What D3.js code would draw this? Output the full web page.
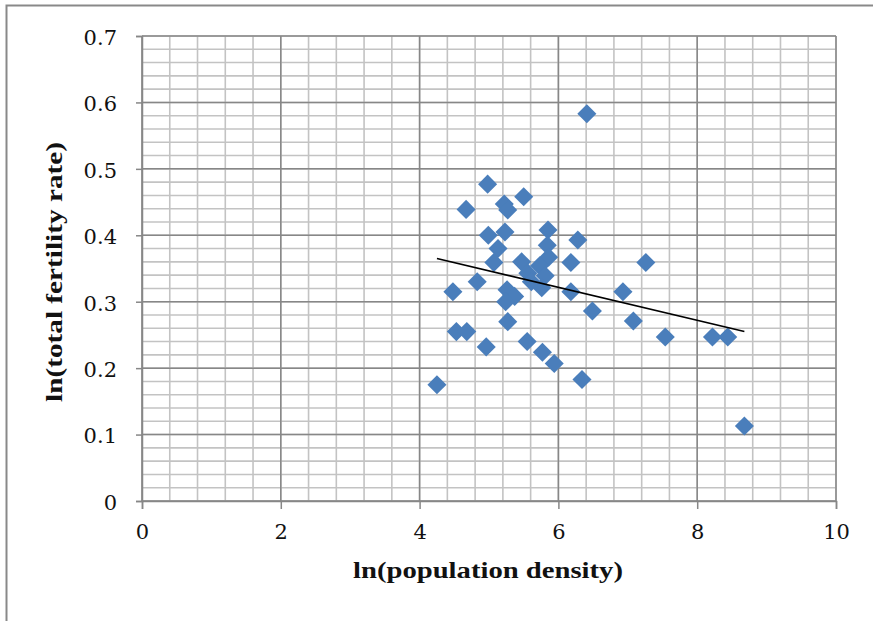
<!DOCTYPE html>
<html>
<head>
<meta charset="utf-8">
<script src="https://cdn.jsdelivr.net/npm/d3@7"></script>
<style>
  body { margin: 0; background: #fff; }
  svg { display: block; }
</style>
</head>
<body>
<script>
// values
var popDensity = [6.41, 4.98, 4.67, 5.22, 5.27, 5.50, 4.99, 5.23, 5.13, 5.07,
    5.85, 5.84, 5.86, 6.28, 6.18, 5.47, 5.73, 5.56, 5.81, 5.61,
    5.76, 4.83, 4.48, 5.26, 5.37, 5.24, 6.18, 6.49, 6.93, 7.08,
    7.26, 5.27, 4.53, 4.68, 4.96, 5.55, 5.77, 5.94, 6.34, 4.25,
    7.54, 8.22, 8.44, 8.68];
var fertility = [0.583, 0.477, 0.439, 0.447, 0.438, 0.458, 0.400, 0.405, 0.380, 0.359,
    0.408, 0.385, 0.367, 0.393, 0.359, 0.360, 0.354, 0.343, 0.339, 0.330,
    0.321, 0.330, 0.315, 0.318, 0.308, 0.300, 0.315, 0.286, 0.315, 0.271,
    0.359, 0.270, 0.255, 0.255, 0.232, 0.240, 0.224, 0.207, 0.183, 0.175,
    0.247, 0.247, 0.247, 0.113];
var xTicks = [0, 2, 4, 6, 8, 10];
var yTicks = [0, 0.1, 0.2, 0.3, 0.4, 0.5, 0.6, 0.7];
var xMinorStep = 0.4;
var yMinorStep = 0.02;
var xTitle = "ln(population density)";
var yTitle = "ln(total fertility rate)";

var W = 873, H = 621;
var plotLeft = 142, plotRight = 836, plotTop = 36, plotBottom = 501;

var points = popDensity.map((d, i) => ({x: d, y: fertility[i]}));

var x = d3.scaleLinear().domain([0, 10]).range([plotLeft, plotRight]);
var y = d3.scaleLinear().domain([0, 0.7]).range([plotBottom, plotTop]);

const svg = d3.select("body").append("svg")
    .attr("width", W)
    .attr("height", H);

// outer chart frame
svg.append("rect")
    .attr("x", 6.5).attr("y", 5.5)
    .attr("width", W + 20).attr("height", H + 20)
    .attr("fill", "none")
    .attr("stroke", "#898989")
    .attr("stroke-width", 2);

// minor grid
const grid = svg.append("g");
grid.append("g").selectAll("line")
    .data(d3.range(0, 10 + 1e-9, xMinorStep))
    .join("line")
    .attr("x1", d => x(d)).attr("x2", d => x(d))
    .attr("y1", plotTop).attr("y2", plotBottom)
    .attr("stroke", "#c3c3c3").attr("stroke-width", 1.6);
grid.append("g").selectAll("line")
    .data(d3.range(0, 0.7 + 1e-9, yMinorStep))
    .join("line")
    .attr("x1", plotLeft).attr("x2", plotRight)
    .attr("y1", d => y(d)).attr("y2", d => y(d))
    .attr("stroke", "#c3c3c3").attr("stroke-width", 1.6);

// major grid
grid.append("g").selectAll("line")
    .data(xTicks)
    .join("line")
    .attr("x1", d => x(d)).attr("x2", d => x(d))
    .attr("y1", plotTop).attr("y2", plotBottom)
    .attr("stroke", "#878787").attr("stroke-width", 1.5);
grid.append("g").selectAll("line")
    .data(yTicks)
    .join("line")
    .attr("x1", plotLeft).attr("x2", plotRight)
    .attr("y1", d => y(d)).attr("y2", d => y(d))
    .attr("stroke", "#878787").attr("stroke-width", 1.5);

// axes
const xAxis = svg.append("g")
    .attr("transform", `translate(0,${plotBottom})`)
    .call(d3.axisBottom(x).tickValues(xTicks).tickSize(8).tickPadding(10).tickFormat(d3.format("d")));
const yAxis = svg.append("g")
    .attr("transform", `translate(${plotLeft},0)`)
    .call(d3.axisLeft(y).tickValues(yTicks).tickSize(6).tickPadding(19).tickFormat(d => d === 0 ? "0" : d3.format(".1f")(d)));

[xAxis, yAxis].forEach(a => {
    a.select(".domain").attr("stroke", "#878787").attr("stroke-width", 1.5);
    a.selectAll(".tick line").attr("stroke", "#878787").attr("stroke-width", 1.5);
    a.selectAll("text")
        .attr("fill", "#111")
        .style("font-family", "'DejaVu Serif', serif")
        .style("font-size", "21px");
});
xAxis.selectAll("text").attr("dy", "0.95em");
yAxis.selectAll("text").attr("dy", "0.4em");

// trend line (least squares)
const mx = d3.mean(points, d => d.x), my = d3.mean(points, d => d.y);
const slope = d3.sum(points, d => (d.x - mx) * (d.y - my)) / d3.sum(points, d => (d.x - mx) ** 2);
const icept = my - slope * mx;
const [xmin, xmax] = d3.extent(points, d => d.x);

// markers
svg.append("g").selectAll("path")
    .data(points)
    .join("path")
    .attr("transform", d => `translate(${x(d.x)},${y(d.y)}) rotate(45)`)
    .attr("d", d3.symbol(d3.symbolSquare, 182))
    .attr("fill", "#4a7ebb");

svg.append("line")
    .attr("x1", x(xmin)).attr("y1", y(icept + slope * xmin))
    .attr("x2", x(xmax)).attr("y2", y(icept + slope * xmax))
    .attr("stroke", "#000").attr("stroke-width", 1.6);

// titles
svg.append("text")
    .attr("x", 488).attr("y", 578)
    .attr("text-anchor", "middle")
    .attr("textLength", 270).attr("lengthAdjust", "spacingAndGlyphs")
    .style("font-family", "'Liberation Serif', serif")
    .style("font-weight", "bold")
    .style("font-size", "24px")
    .attr("fill", "#111")
    .text(xTitle);

svg.append("text")
    .attr("transform", "translate(62,272) rotate(-90)")
    .attr("text-anchor", "middle")
    .attr("textLength", 260).attr("lengthAdjust", "spacingAndGlyphs")
    .style("font-family", "'Liberation Serif', serif")
    .style("font-weight", "bold")
    .style("font-size", "23px")
    .attr("fill", "#111")
    .text(yTitle);
</script>
</body>
</html>
